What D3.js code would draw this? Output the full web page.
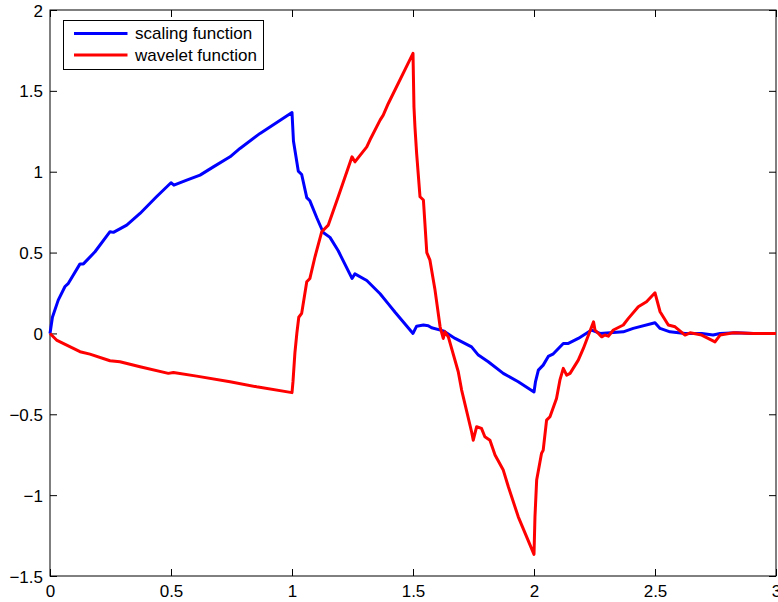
<!DOCTYPE html>
<html>
<head>
<meta charset="utf-8">
<script src="https://cdn.jsdelivr.net/npm/d3@7"></script>
<style>
  body { margin: 0; background: #fff; }
  svg text { font-family: "Liberation Sans", Arial, Helvetica, sans-serif; }
</style>
</head>
<body>
<div id="chart"></div>
<script>
// db2 scaling / wavelet
const scaling = [
  [0,0],[0.01,0.1],[0.034,0.206],[0.062,0.29],[0.076,0.31],[0.124,0.43],[0.138,0.43],
  [0.186,0.505],[0.248,0.629],[0.262,0.625],[0.317,0.67],[0.372,0.742],[0.44,0.845],
  [0.5,0.932],[0.512,0.917],[0.565,0.948],[0.62,0.979],[0.675,1.03],[0.744,1.092],
  [0.785,1.144],[0.868,1.237],[1.0,1.366],[1.006,1.19],[1.026,1.004],[1.04,0.983],
  [1.061,0.84],[1.074,0.82],[1.102,0.717],[1.129,0.624],[1.157,0.594],[1.191,0.511],
  [1.248,0.34],[1.26,0.368],[1.309,0.327],[1.364,0.245],[1.398,0.183],[1.426,0.131],
  [1.5,0.0],[1.515,0.045],[1.543,0.052],[1.563,0.048],[1.577,0.035],[1.625,0.016],
  [1.674,-0.031],[1.742,-0.083],[1.77,-0.134],[1.811,-0.175],[1.873,-0.247],
  [1.935,-0.299],[2.0,-0.362],[2.006,-0.3],[2.018,-0.227],[2.038,-0.196],[2.059,-0.142],
  [2.08,-0.126],[2.121,-0.062],[2.142,-0.062],[2.183,-0.031],[2.238,0.021],[2.273,0.0],
  [2.314,0.004],[2.369,0.01],[2.41,0.031],[2.5,0.066],[2.521,0.031],[2.562,0.01],
  [2.624,0],[2.693,0],[2.74,-0.01],[2.769,0],[2.837,0.004],[2.906,0],[3,0]
];

const wavelet = [
  [0,0],[0.027,-0.041],[0.069,-0.072],[0.124,-0.113],[0.165,-0.128],[0.248,-0.169],
  [0.289,-0.175],[0.372,-0.206],[0.489,-0.247],[0.51,-0.241],[0.606,-0.264],
  [0.744,-0.299],[0.854,-0.33],[1.0,-0.366],[1.004,-0.3],[1.012,-0.12],[1.02,0.0],
  [1.028,0.1],[1.04,0.124],[1.061,0.32],[1.074,0.34],[1.095,0.474],[1.123,0.629],
  [1.15,0.67],[1.191,0.845],[1.248,1.092],[1.26,1.061],[1.309,1.154],[1.322,1.196],
  [1.364,1.319],[1.377,1.35],[1.398,1.422],[1.5,1.732],[1.504,1.4],[1.508,1.278],
  [1.515,1.113],[1.529,0.845],[1.543,0.825],[1.557,0.5],[1.57,0.453],[1.591,0.268],
  [1.612,0.041],[1.625,-0.031],[1.632,0.01],[1.646,-0.021],[1.687,-0.237],[1.701,-0.35],
  [1.742,-0.608],[1.749,-0.66],[1.763,-0.577],[1.783,-0.587],[1.797,-0.639],
  [1.818,-0.66],[1.839,-0.752],[1.873,-0.845],[1.894,-0.948],[1.935,-1.134],
  [2.0,-1.366],[2.004,-1.134],[2.011,-0.907],[2.031,-0.742],[2.038,-0.722],
  [2.052,-0.536],[2.066,-0.515],[2.093,-0.402],[2.107,-0.289],[2.121,-0.216],
  [2.135,-0.258],[2.149,-0.247],[2.183,-0.165],[2.204,-0.093],[2.246,0.072],
  [2.252,0.021],[2.28,-0.021],[2.293,-0.01],[2.307,-0.017],[2.328,0.021],[2.369,0.052],
  [2.39,0.093],[2.431,0.165],[2.465,0.196],[2.5,0.251],[2.521,0.134],[2.555,0.052],
  [2.583,0.041],[2.624,-0.01],[2.645,0.004],[2.693,-0.01],[2.748,-0.052],[2.769,-0.01],
  [2.824,0.004],[2.906,0],[3,0]
];

const xTicks = [0, 0.5, 1, 1.5, 2, 2.5, 3];
const yTicks = [-1.5, -1, -0.5, 0, 0.5, 1, 1.5, 2];
const seriesNames = ['scaling function', 'wavelet function'];
const seriesColors = ['#0000ff', '#ff0000'];

const width = 778, height = 602;
const margin = {top: 10, right: 2, bottom: 26, left: 50};
const w = width - margin.left - margin.right;
const h = height - margin.top - margin.bottom;
const fontSize = 17;

const svg = d3.select('#chart').append('svg')
  .attr('width', width)
  .attr('height', height);

const g = svg.append('g')
  .attr('transform', `translate(${margin.left},${margin.top})`);

const x = d3.scaleLinear().domain([0, 3]).range([0, w]);
const y = d3.scaleLinear().domain([-1.5, 2]).range([h, 0]);

const fmt = d3.format('~g');

// axes: ticks pointing inward, mirrored on top/right
const styleAxis = (sel) => {
  sel.select('.domain').remove();
  sel.selectAll('.tick line').attr('stroke', '#000');
  sel.selectAll('.tick text').attr('fill', '#000').attr('font-size', fontSize);
};

g.append('g')
  .attr('transform', `translate(0,${h})`)
  .call(d3.axisBottom(x).tickValues(xTicks).tickFormat(fmt)
    .tickSizeInner(-7).tickSizeOuter(0).tickPadding(9))
  .call(styleAxis);

g.append('g')
  .call(d3.axisLeft(y).tickValues(yTicks).tickFormat(fmt)
    .tickSizeInner(-7).tickSizeOuter(0).tickPadding(7))
  .call(styleAxis)
  .selectAll('.tick text').attr('dy', '0.36em');

g.append('g')
  .call(d3.axisTop(x).tickValues(xTicks).tickFormat('')
    .tickSizeInner(-7).tickSizeOuter(0))
  .call(styleAxis);

g.append('g')
  .attr('transform', `translate(${w},0)`)
  .call(d3.axisRight(y).tickValues(yTicks).tickFormat('')
    .tickSizeInner(-7).tickSizeOuter(0))
  .call(styleAxis);

g.append('rect')
  .attr('x', 0).attr('y', 0)
  .attr('width', w).attr('height', h)
  .attr('fill', 'none')
  .attr('stroke', '#000')
  .attr('stroke-width', 1);

const line = d3.line()
  .x(d => x(d[0]))
  .y(d => y(d[1]));

[scaling, wavelet].forEach((data, i) => {
  g.append('path')
    .datum(data)
    .attr('d', line)
    .attr('fill', 'none')
    .attr('stroke', seriesColors[i])
    .attr('stroke-width', 3)
    .attr('stroke-linejoin', 'round');
});

// legend
const legend = g.append('g')
  .attr('transform', 'translate(13.5,10.5)');

legend.append('rect')
  .attr('width', 200)
  .attr('height', 49)
  .attr('fill', '#fff')
  .attr('stroke', '#000')
  .attr('stroke-width', 1);

seriesNames.forEach((name, i) => {
  const row = legend.append('g')
    .attr('transform', `translate(0,${13 + i * 21.5})`);
  row.append('line')
    .attr('x1', 10.5).attr('x2', 64)
    .attr('y1', 0).attr('y2', 0)
    .attr('stroke', seriesColors[i])
    .attr('stroke-width', 3);
  row.append('text')
    .attr('x', 71.5)
    .attr('y', 5.5)
    .attr('font-size', fontSize)
    .attr('fill', '#000')
    .text(name);
});
</script>
</body>
</html>
